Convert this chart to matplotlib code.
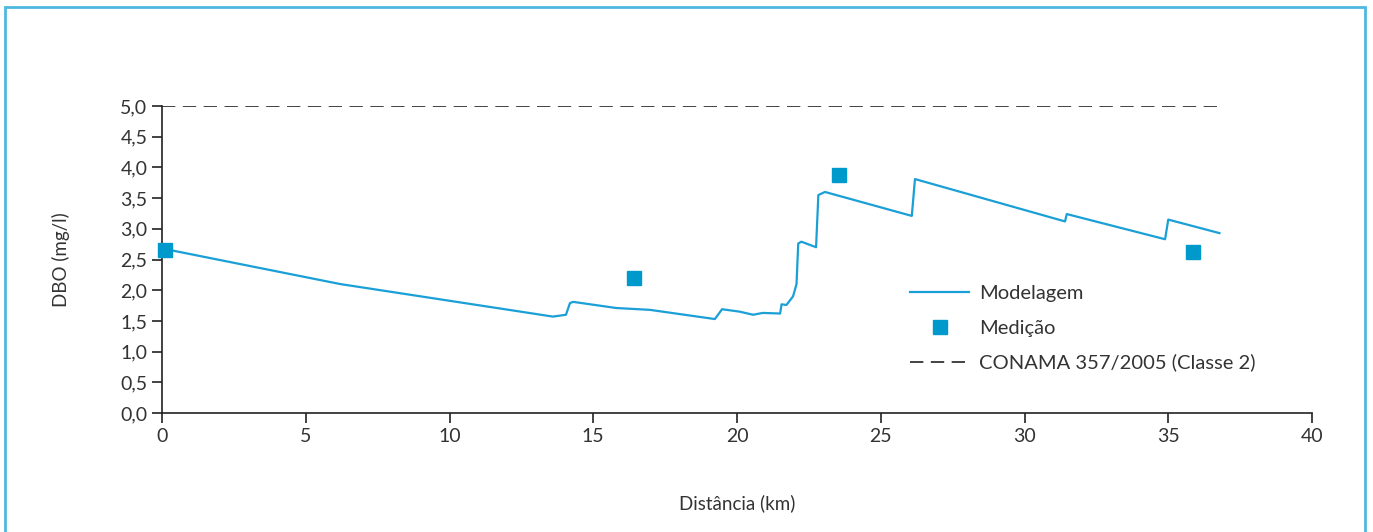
import matplotlib.pyplot as plt
from matplotlib.patches import Rectangle

# Modelled BOD profile along the river (km, mg/l)
dist_model = [0.0, 6.2, 13.6, 14.05, 14.19, 14.3, 15.8, 16.97, 19.23, 19.48, 20.1,
              20.56, 20.9, 21.5, 21.55, 21.72, 21.95, 22.07, 22.13, 22.24, 22.75,
              22.83, 23.06, 26.08, 26.19, 31.41, 31.47, 34.89, 35.0, 36.78]
dbo_model = [2.68, 2.10, 1.57, 1.60, 1.79, 1.81, 1.71, 1.68, 1.53, 1.69, 1.65,
             1.60, 1.63, 1.62, 1.77, 1.76, 1.90, 2.10, 2.76, 2.79, 2.70,
             3.55, 3.60, 3.21, 3.81, 3.12, 3.24, 2.83, 3.15, 2.93]

# Measured points
dist_med = [0.1, 16.4, 23.55, 35.86]
dbo_med = [2.65, 2.20, 3.88, 2.62]

# CONAMA 357/2005 class 2 limit
conama_x = [0.0, 36.8]
conama_y = [5.0, 5.0]

txt = '#333333'
plt.rcParams['font.family'] = ['Lato', 'DejaVu Sans']

fig = plt.figure(figsize=(13.73, 5.32), dpi=100)
ax = fig.add_axes([162/1373, 1 - 413/532, 1150/1373, 307/532])

ax.plot(dist_model, dbo_model, color='#1a9fd6', lw=1.6, label='Modelagem')
ax.plot(dist_med, dbo_med, ls='none', marker='s', ms=9.5, color='#0099cc',
        label='Medição', clip_on=False, zorder=5)
ax.plot(conama_x, conama_y, color='#222222', lw=1.2, ls=(0, (8, 4.5)),
        label='CONAMA 357/2005 (Classe 2)')

ax.set_xlim(0, 40)
ax.set_ylim(0, 5)
ax.set_xticks(range(0, 41, 5))
ax.set_yticks([i * 0.5 for i in range(11)])
ax.set_yticklabels([f'{i*0.5:.1f}'.replace('.', ',') for i in range(11)])
for s in ['top', 'right']:
    ax.spines[s].set_visible(False)
for s in ['left', 'bottom']:
    ax.spines[s].set_color('#222222')
    ax.spines[s].set_linewidth(1.2)
ax.tick_params(colors='#222222', labelcolor=txt, labelsize=14, length=7, width=1.2)

ax.set_xlabel('Distância (km)', fontsize=13.5, color=txt, labelpad=36)
ax.set_ylabel('DBO (mg/l)', fontsize=13.5, color=txt, labelpad=36)

leg = ax.legend(loc='upper left', bbox_to_anchor=(0.635, 0.475), frameon=False,
                fontsize=14.5, handlelength=2.9, labelspacing=0.85, handletextpad=0.5)
for t in leg.get_texts():
    t.set_color(txt)

fig.patches.append(Rectangle((5/1373, -0.02), 1360/1373, 1 - 7/532 + 0.02,
                             transform=fig.transFigure, fill=False,
                             edgecolor='#4db8e0', lw=2))

fig.savefig('out.png', dpi=100)
